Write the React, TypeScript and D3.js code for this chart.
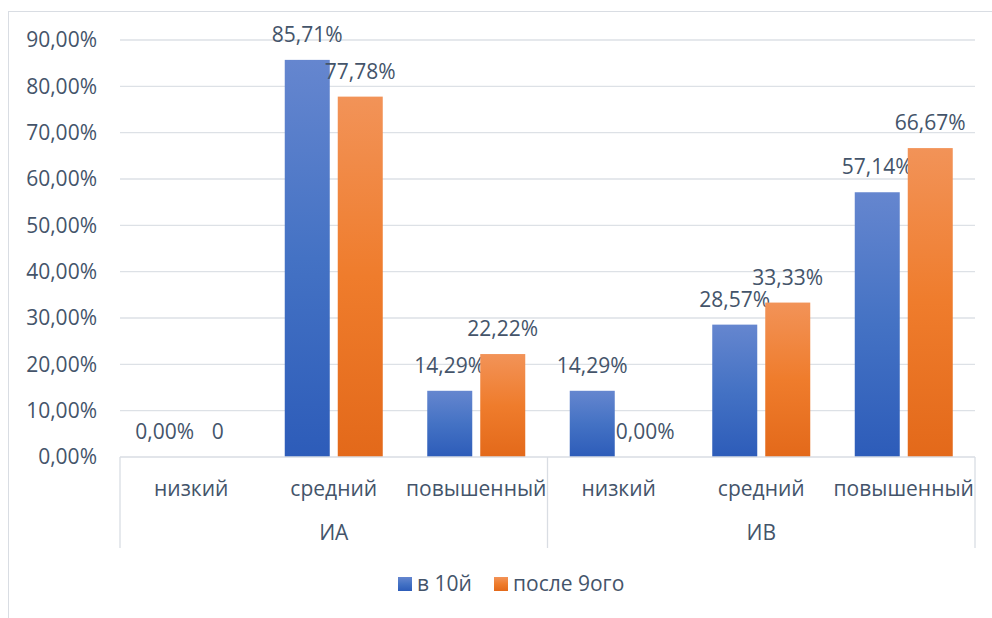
import React, { useEffect, useRef } from "react";
import * as d3 from "d3";

/* DATA */
const groups = ["ИА", "ИВ"];
const levels = ["низкий", "средний", "повышенный"];
const seriesNames = ["в 10й", "после 9ого"];
const in10 = [0, 85.71, 14.29, 14.29, 28.57, 57.14];
const after9 = [0, 77.78, 22.22, 0, 33.33, 66.67];
const in10Labels = ["0,00%", "85,71%", "14,29%", "14,29%", "28,57%", "57,14%"];
const after9Labels = ["0", "77,78%", "22,22%", "0,00%", "33,33%", "66,67%"];
const yTicks = [0, 10, 20, 30, 40, 50, 60, 70, 80, 90];

const App = () => {
  const ref = useRef<SVGSVGElement>(null);

  useEffect(() => {
    const width = 992;
    const height = 618;
    const fontFamily = "'Open Sans', 'Noto Sans', sans-serif";
    const fontSize = 21;
    const textColor = "#44546a";
    const gridColor = "#dde1e6";
    const plot = { left: 120, right: 975, top: 40, bottom: 457 };

    const svg = d3.select(ref.current!);
    svg.selectAll("*").remove();
    svg.attr("width", width).attr("height", height);

    /* Gradients for the bars */
    const defs = svg.append("defs");
    const grads = [
      { id: "gBlue", top: "#6586cf", mid: "#4472c4", bottom: "#2d5cb9" },
      { id: "gOrange", top: "#f29358", mid: "#ef7c2c", bottom: "#e3691a" },
    ];
    grads.forEach((g) => {
      const lg = defs
        .append("linearGradient")
        .attr("id", g.id)
        .attr("x1", 0)
        .attr("y1", 0)
        .attr("x2", 0)
        .attr("y2", 1);
      lg.append("stop").attr("offset", "0%").attr("stop-color", g.top);
      lg.append("stop").attr("offset", "50%").attr("stop-color", g.mid);
      lg.append("stop").attr("offset", "100%").attr("stop-color", g.bottom);
    });

    /* Chart area border */
    svg
      .append("rect")
      .attr("x", 8.5)
      .attr("y", 11.5)
      .attr("width", 1000)
      .attr("height", 700)
      .attr("fill", "white")
      .attr("stroke", "#d9dde3");

    const categories = groups.flatMap((g) => levels.map((l) => `${g}|${l}`));

    const x = d3
      .scaleBand()
      .domain(categories)
      .range([plot.left, plot.right]);
    const bw = x.bandwidth();
    const inner = d3
      .scaleBand()
      .domain(seriesNames)
      .range([(bw - 98) / 2, (bw + 98) / 2])
      .paddingInner(8 / 53);

    const y = d3.scaleLinear().domain([0, 90]).range([plot.bottom, plot.top]);

    /* Gridlines */
    svg
      .append("g")
      .selectAll("line")
      .data(yTicks.filter((t) => t > 0))
      .join("line")
      .attr("x1", plot.left)
      .attr("x2", plot.right)
      .attr("y1", (d) => y(d))
      .attr("y2", (d) => y(d))
      .attr("stroke", gridColor)
      .attr("stroke-width", 1.3);

    /* Y labels */
    svg
      .append("g")
      .selectAll("text")
      .data(yTicks)
      .join("text")
      .attr("x", 97)
      .attr("y", (d) => y(d))
      .attr("dy", "0.35em")
      .attr("text-anchor", "end")
      .attr("font-family", fontFamily)
      .attr("font-size", fontSize)
      .attr("fill", textColor)
      .text((d) => d3.format(".2f")(d).replace(".", ",") + "%");

    /* Bars */
    const series = [
      { name: seriesNames[0], values: in10, labels: in10Labels, fill: "url(#gBlue)" },
      { name: seriesNames[1], values: after9, labels: after9Labels, fill: "url(#gOrange)" },
    ];

    series.forEach((s) => {
      svg
        .append("g")
        .selectAll("rect")
        .data(s.values)
        .join("rect")
        .attr("x", (d, i) => x(categories[i])! + inner(s.name)!)
        .attr("y", (d) => y(d))
        .attr("width", inner.bandwidth())
        .attr("height", (d) => plot.bottom - y(d))
        .attr("fill", s.fill);

      svg
        .append("g")
        .selectAll("text")
        .data(s.values)
        .join("text")
        .attr("x", (d, i) => x(categories[i])! + inner(s.name)! + inner.bandwidth() / 2)
        .attr("y", (d) => y(d) - 18)
        .attr("text-anchor", "middle")
        .attr("font-family", fontFamily)
        .attr("font-size", fontSize)
        .attr("fill", textColor)
        .text((d, i) => s.labels[i]);
    });

    /* Category axis (multi-level) */
    const axisBottom = 548;
    svg
      .append("line")
      .attr("x1", plot.left)
      .attr("x2", plot.right)
      .attr("y1", plot.bottom)
      .attr("y2", plot.bottom)
      .attr("stroke", "#d9dde3")
      .attr("stroke-width", 1.3);

    const groupEdges = [plot.left, x(categories[3])!, plot.right];
    svg
      .append("g")
      .selectAll("line")
      .data(groupEdges)
      .join("line")
      .attr("x1", (d) => d)
      .attr("x2", (d) => d)
      .attr("y1", plot.bottom)
      .attr("y2", axisBottom)
      .attr("stroke", "#d9dde3")
      .attr("stroke-width", 1.3);

    svg
      .append("g")
      .selectAll("text")
      .data(categories)
      .join("text")
      .attr("x", (d) => x(d)! + bw / 2)
      .attr("y", 496)
      .attr("text-anchor", "middle")
      .attr("font-family", fontFamily)
      .attr("font-size", fontSize)
      .attr("fill", textColor)
      .text((d) => d.split("|")[1]);

    svg
      .append("g")
      .selectAll("text")
      .data(groups)
      .join("text")
      .attr("x", (d, i) => (groupEdges[i] + groupEdges[i + 1]) / 2)
      .attr("y", 540)
      .attr("text-anchor", "middle")
      .attr("font-family", fontFamily)
      .attr("font-size", fontSize)
      .attr("fill", textColor)
      .text((d) => d);

    /* Legend */
    const legendItems = [
      { name: seriesNames[0], x: 398, fill: "url(#gBlue)" },
      { name: seriesNames[1], x: 494, fill: "url(#gOrange)" },
    ];
    const legend = svg.append("g");
    legendItems.forEach((it) => {
      legend
        .append("rect")
        .attr("x", it.x)
        .attr("y", 577)
        .attr("width", 14)
        .attr("height", 14)
        .attr("fill", it.fill);
      legend
        .append("text")
        .attr("x", it.x + 19)
        .attr("y", 584)
        .attr("dy", "0.35em")
        .attr("font-family", fontFamily)
        .attr("font-size", fontSize)
        .attr("fill", textColor)
        .text(it.name);
    });
  }, []);

  return (
    <svg
      ref={ref}
      style={{ position: "fixed", left: 0, top: 0, display: "block", background: "white" }}
    />
  );
};

export default App;
